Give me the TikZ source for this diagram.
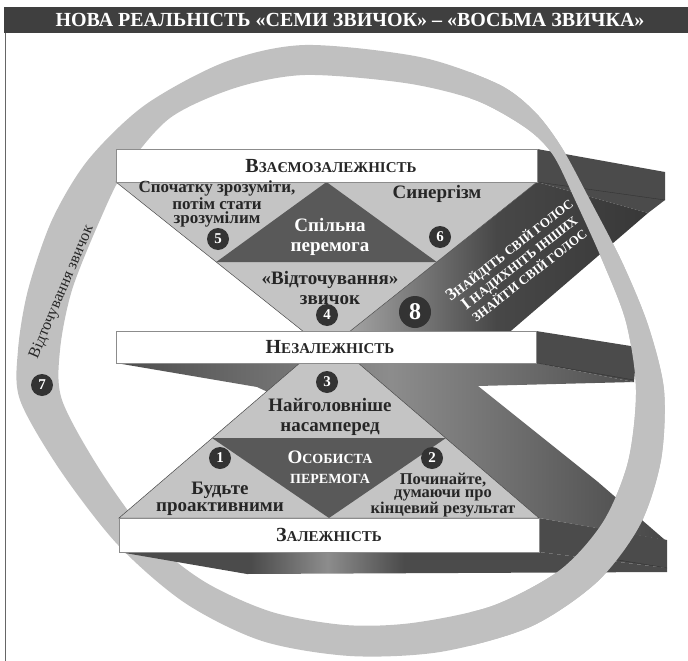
\documentclass[tikz,border=0pt]{standalone}
\usepackage{fontspec}
\setmainfont{Liberation Serif}
\usetikzlibrary{shapes,positioning}
\definecolor{titelgrau}{HTML}{3F3F3F}
\definecolor{hellgrau}{HTML}{C4C4C4}
\definecolor{kerngrau}{HTML}{595959}
\definecolor{ringgrau}{HTML}{C0C0C0}
\definecolor{bandgrau}{HTML}{4B4B4B}
\definecolor{zahlgrau}{HTML}{333333}
\pgfdeclarehorizontalshading{schatten}{100bp}{color(0bp)=(bandgrau); color(37bp)=(bandgrau); color(44bp)=(black!45); color(51bp)=(bandgrau); color(100bp)=(bandgrau)}
\newcommand{\kapit}[4]{{\fontsize{#1}{#1}\selectfont #3}{\fontsize{#2}{#2}\selectfont #4}}
\newcommand{\ringweg}{plot[smooth cycle] coordinates {(305,45) (420,57) (498,84) (535,112) (562,148) (590,200) (622,262) (648,325) (664,390) (661,460) (640,525) (597,582) (530,627) (440,652) (350,656) (262,641) (185,603) (118,545) (60,470) (20,400) (18,350) (28,290) (52,220) (88,160) (145,105) (225,62)}
  plot[smooth cycle] coordinates {(305,75) (405,83) (475,100) (526,128) (553,155) (576,202) (603,262) (626,322) (636,390) (628,462) (603,522) (560,570) (492,606) (412,623) (345,625) (272,612) (205,582) (150,538) (100,470) (62,400) (60,350) (72,290) (100,220) (125,170) (170,118) (235,88)}}
\tikzset {
ebene/.style={draw=black!45,fill=white,line width=0.7pt},
dreieck/.style={fill=hellgrau,draw=black!70,line width=0.5pt},
kern/.style={fill=kerngrau},
zahl/.style={circle,fill=zahlgrau,text=white,inner sep=0pt,minimum size=22pt,font=\bfseries\fontsize{15}{15}\selectfont},
schrift/.style={align=center,inner sep=0pt,text=black!85,font=\bfseries\fontsize{19}{19.5}\selectfont},
weiss/.style={align=center,inner sep=0pt,text=white,font=\bfseries\fontsize{19}{20}\selectfont}
}
\begin{document}
\begin{tikzpicture}[x=1pt,y=-1pt]
\useasboundingbox (0,0) rectangle (688,661);
% Rahmen und Titel
\draw[black!60,line width=0.8pt] (5,33) -- (5,661);
\fill[titelgrau] (4,7) rectangle (688,33);
\node[text=white,font=\bfseries\fontsize{20}{20}\selectfont] (titel) at (350,20) {НОВА РЕАЛЬНІСТЬ «СЕМИ ЗВИЧОК» – «ВОСЬМА ЗВИЧКА»};

% Ring hinten
\fill[ringgrau,even odd rule] \ringweg;

% Baender
\shade[shading=schatten] (119,552) -- (539,552) -- (667,568) -- (667,572) -- (247,574) -- cycle;
\fill[bandgrau] (539,518) -- (667,540) -- (667,568) -- (539,552) -- cycle;
\draw[black!80,line width=0.4pt] (600,557) -- (667,568);
\shade[left color=black!70,right color=black!72,middle color=black!45] (116,363) -- (536,363) -- (634,382) -- (478,386) -- (598,482) -- (665,540) -- (539,518) -- (257,387) -- cycle;
\fill[bandgrau] (536,331) -- (637,347) -- (634,382) -- (536,363) -- cycle;
\draw[black!80,line width=0.4pt] (536,363) -- (634,380);
\fill[bandgrau] (537,149) -- (665,172) -- (665,200) -- (648,213) -- (537,182) -- cycle;
\draw[black!80,line width=0.4pt] (537,182) -- (665,200);
\shade[left color=black!35,right color=black!78,middle color=black!72] (537,182) -- (648,213) -- (505,336) -- (344,336) -- cycle;

% Dreiecke
\filldraw[dreieck] (116,182) -- (537,182) -- (326.5,350) -- cycle;
\fill[kern] (326.5,182) -- (436.7,262) -- (216.3,262) -- cycle;
\filldraw[dreieck] (119,518) -- (539,518) -- (329,338) -- cycle;
\fill[kern] (212,438) -- (446,438) -- (329,518) -- cycle;

% Ebenen
\filldraw[ebene] (116,149) rectangle (537,182);
\filldraw[ebene] (116,331) rectangle (536,363);
\filldraw[ebene] (119,518) rectangle (539,552);
\node[schrift] (interdep) at (331,166) {\kapit{20}{15}{В}{ЗАЄМОЗАЛЕЖНІСТЬ}};
\node[schrift] (indep) at (330,347) {\kapit{20}{15}{Н}{ЕЗАЛЕЖНІСТЬ}};
\node[schrift] (dep) at (329,535) {\kapit{20}{15}{З}{АЛЕЖНІСТЬ}};

% Ring vorne
\begin{scope}
\clip (470,0) rectangle (688,661);
\fill[ringgrau,even odd rule] \ringweg;
\end{scope}

% Texte oben
\node[schrift,font=\bfseries\fontsize{17}{14.5}\selectfont] (verstehen) at (217,204) {Спочатку зрозуміти,\\потім стати\\зрозумілим};
\node[schrift] (synergie) at (437,194) {Синергізм};
\node[weiss] (gemeinsam) at (330,237) {Спільна\\перемога};
\node[schrift] (schaerfen) at (330,288) {«Відточування»\\звичок};
\node[weiss,rotate=38,font=\bfseries\fontsize{13}{16}\selectfont] (stimme) at (519,262)
  {\kapit{17}{13}{З}{НАЙДІТЬ СВІЙ ГОЛОС}\\\kapit{17}{13}{І}{ НАДИХНІТЬ ІНШИХ}\\\kapit{13}{13}{З}{НАЙТИ СВІЙ ГОЛОС}};
\node[weiss,rotate=67,text=black!85,font=\fontsize{16}{16}\selectfont] (ring text) at (62,292) {Відточування звичок};

% Texte unten
\node[schrift] (vorrang) at (330,417) {Найголовніше\\насамперед};
\node[weiss] (privat) at (330,467) {\kapit{19}{14}{О}{СОБИСТА}\\\kapit{14}{14}{П}{ЕРЕМОГА}};
\node[schrift,font=\bfseries\fontsize{19}{17}\selectfont] (proaktiv) at (220,499) {Будьте\\проактивними};
\node[schrift,font=\bfseries\fontsize{16.5}{12.5}\selectfont] (ziel) at (443,495) {Починайте,\\думаючи про\\кінцевий результат};

% Nummern
\node[zahl] (z1) at (220,458) {1};
\node[zahl] (z2) at (432,458) {2};
\node[zahl] (z3) at (327,382) {3};
\node[zahl] (z4) at (327,315) {4};
\node[zahl] (z5) at (218,239) {5};
\node[zahl] (z6) at (440,237) {6};
\node[zahl] (z7) at (42,385) {7};
\node[zahl,minimum size=32pt,font=\bfseries\fontsize{24}{24}\selectfont] (z8) at (415,312) {8};
\end{tikzpicture}
\end{document}
